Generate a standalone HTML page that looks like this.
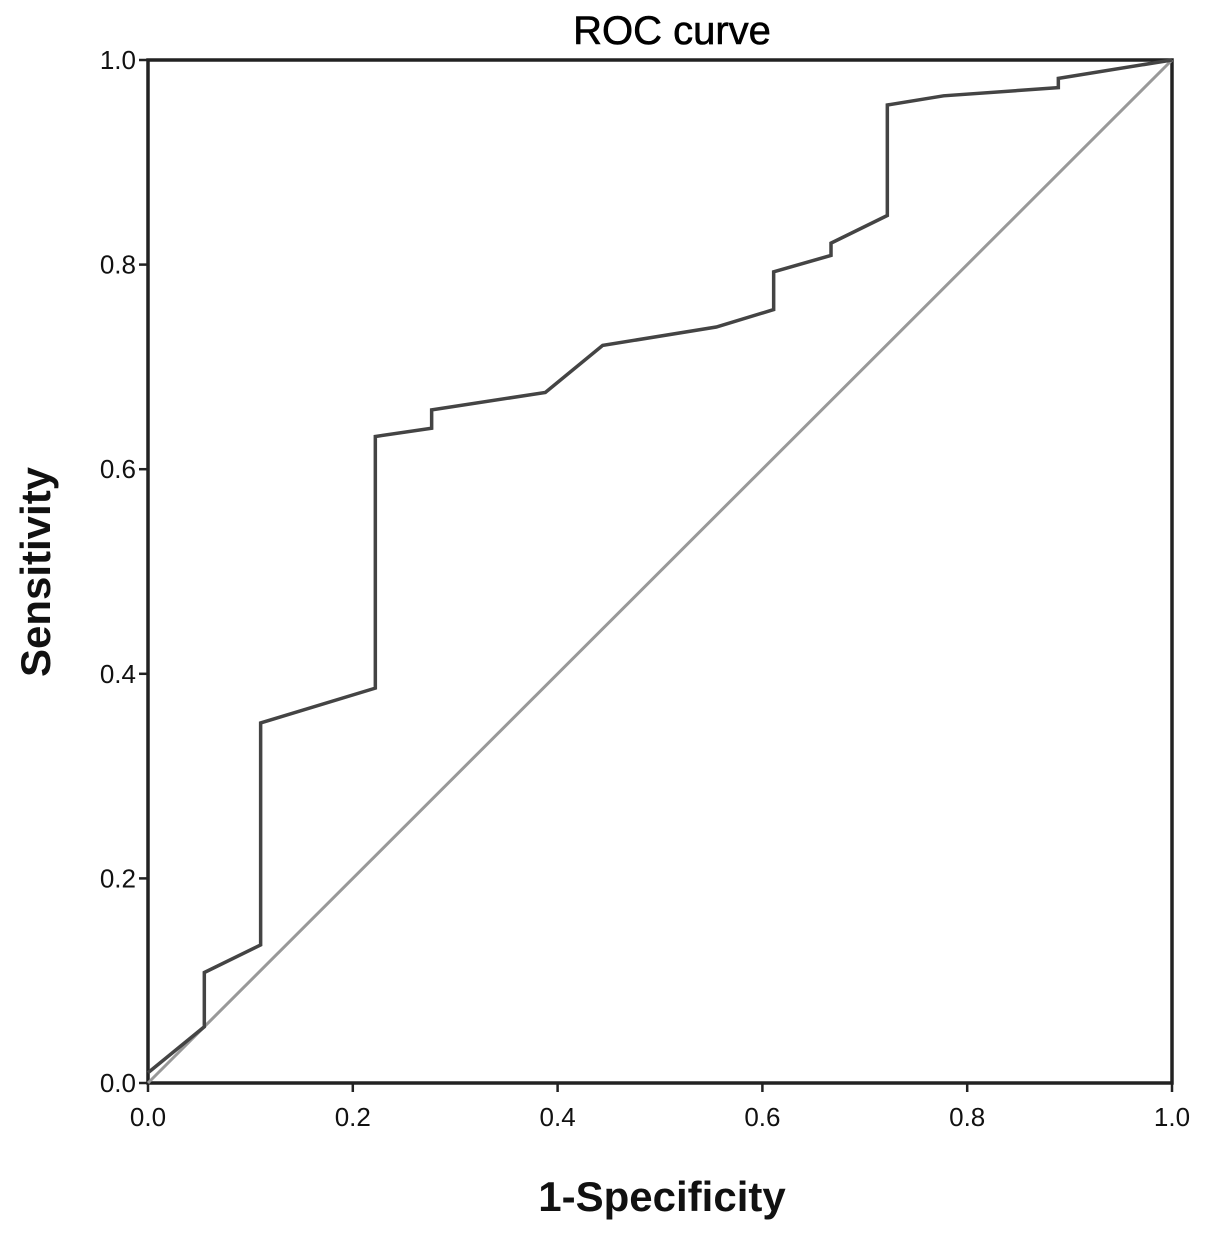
<!DOCTYPE html>
<html><head><meta charset="utf-8"><style>
html,body{margin:0;padding:0;background:#fff;}
svg{display:block;font-family:"Liberation Sans",Arial,sans-serif;}
</style></head><body>
<svg id="chart" width="1205" height="1233" viewBox="0 0 1205 1233">
<text x="672" y="44" text-anchor="middle" font-size="40" font-weight="500" fill="#000" stroke="#000" stroke-width="0.6">ROC curve</text>
<g id="axes"></g>
<g id="series"></g>
<text x="662" y="1211" text-anchor="middle" font-size="42" font-weight="bold" fill="#111">1-Specificity</text>
<text transform="translate(50,572) rotate(-90)" text-anchor="middle" font-size="42" font-weight="bold" fill="#111">Sensitivity</text>
</svg>
<script>
const xTicks=[0,0.2,0.4,0.6,0.8,1.0];
const yTicks=[0,0.2,0.4,0.6,0.8,1.0];
const fpr=[0,0.055,0.055,0.11,0.11,0.222,0.222,0.277,0.277,0.388,0.444,0.555,0.611,0.611,0.667,0.667,0.722,0.722,0.777,0.889,0.889,1.0];
const tpr=[0.01,0.055,0.108,0.135,0.352,0.386,0.632,0.640,0.658,0.675,0.721,0.739,0.756,0.793,0.809,0.821,0.848,0.956,0.965,0.973,0.982,1.0];
const refX=[0,1];
const refY=[0,1];
const L=148,R=1172,T=60,B=1083;
const sx=v=>L+v*(R-L), sy=v=>B-v*(B-T);
const NS="http://www.w3.org/2000/svg";
const axes=document.getElementById('axes'), series=document.getElementById('series');
function mk(tag,attrs,parent){const e=document.createElementNS(NS,tag);for(const k in attrs)e.setAttribute(k,attrs[k]);parent.appendChild(e);return e;}
const frame=mk('rect',{x:L,y:T,width:R-L,height:B-T,fill:'none',stroke:'#222','stroke-width':3.5},axes);


xTicks.forEach(t=>{
  const l=mk('line',{x1:sx(t),x2:sx(t),y1:B,y2:B+9,stroke:'#222','stroke-width':2.5},axes);
  
  
  const tx=mk('text',{x:sx(t),y:B+43,'text-anchor':'middle','font-size':26,fill:'#111'},axes);
  tx.textContent=t.toFixed(1);
  
  
});
yTicks.forEach(t=>{
  const l=mk('line',{x1:L-9,x2:L,y1:sy(t),y2:sy(t),stroke:'#222','stroke-width':2.5},axes);
  
  
  const tx=mk('text',{x:L-12,y:sy(t)+9,'text-anchor':'end','font-size':26,fill:'#111'},axes);
  tx.textContent=t.toFixed(1);
  
  
});
const ref=mk('polyline',{points:refX.map((x,i)=>sx(x)+','+sy(refY[i])).join(' '),fill:'none',stroke:'#999','stroke-width':3},series);


const roc=mk('polyline',{points:fpr.map((x,i)=>sx(x)+','+sy(tpr[i])).join(' '),fill:'none',stroke:'#444','stroke-width':3.5},series);


</script>
</body></html>
